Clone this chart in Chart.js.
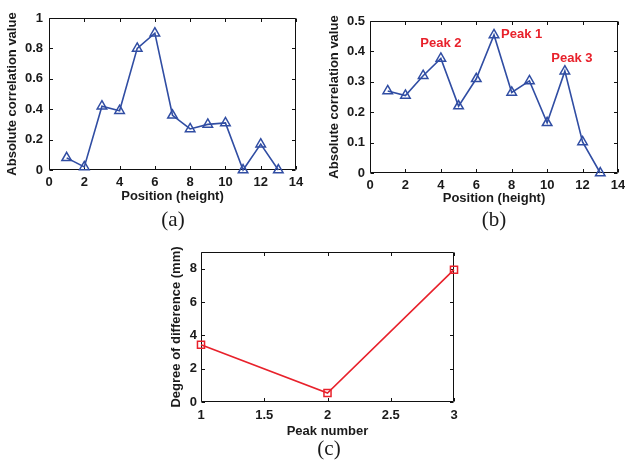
<!DOCTYPE html>
<html><head><meta charset="utf-8">
<script src="https://cdn.jsdelivr.net/npm/chart.js@4.4.1/dist/chart.umd.min.js"></script>
<style>
body{margin:0;background:#fff;width:625px;height:464px;position:relative;overflow:hidden}
canvas{position:absolute}
.lbl{position:absolute;font-family:'Liberation Serif','Times New Roman',serif;font-size:21px;color:#1a1a1a;transform:translate(-50%,-50%);line-height:1;white-space:nowrap}
</style></head><body>
<canvas id="ca" width="310" height="210" style="left:0;top:0"></canvas>
<canvas id="cb" width="313" height="210" style="left:312px;top:0"></canvas>
<canvas id="cc" width="320" height="206" style="left:150px;top:236px"></canvas>
<div class="lbl" style="left:173px;top:219px">(a)</div>
<div class="lbl" style="left:494px;top:219px">(b)</div>
<div class="lbl" style="left:329px;top:448px">(c)</div>
<script>
// ---- data ----
const positions = [1,2,3,4,5,6,7,8,9,10,11,12,13];
const corrA = [0.08,0.02,0.42,0.39,0.80,0.90,0.36,0.27,0.30,0.31,0.00,0.17,0.00];
const corrB = [0.27,0.255,0.32,0.377,0.22,0.31,0.454,0.265,0.303,0.165,0.335,0.102,0.00];
const peakNumbers = [1,2,3];
const diffC = [3.44,0.54,7.94];
const peakLabels = ['Peak 1','Peak 2','Peak 3'];
const peakPositions = [7,4,11];

const BLUE = '#304DA3', RED = '#E8212B', TXT = '#1a1a1a';
const FONT = "'Liberation Sans', Arial, Helvetica, sans-serif";

const boxPlugin = {
  id: 'matlabBox',
  beforeDatasetsDraw(chart) {
    const {ctx, chartArea: a, scales} = chart;
    const L = Math.round(a.left)+0.5, R = Math.round(a.right)-0.5, T = Math.round(a.top)+0.5, B = Math.round(a.bottom)-0.5;
    ctx.save();
    ctx.strokeStyle = '#111'; ctx.lineWidth = 1;
    ctx.beginPath();
    ctx.rect(L, T, R-L, B-T);
    const tl = 3.5;
    scales.x.ticks.forEach(t => {
      const p = Math.round(scales.x.getPixelForValue(t.value)) + 0.5;
      ctx.moveTo(p, B); ctx.lineTo(p, B - tl);
      ctx.moveTo(p, T); ctx.lineTo(p, T + tl);
    });
    scales.y.ticks.forEach(t => {
      const p = Math.round(scales.y.getPixelForValue(t.value)) + 0.5;
      ctx.moveTo(L, p); ctx.lineTo(L + tl, p);
      ctx.moveTo(R, p); ctx.lineTo(R - tl, p);
    });
    ctx.stroke();
    ctx.restore();
  }
};

const peakPlugin = {
  id: 'peakLabels',
  afterDatasetsDraw(chart, args, opts) {
    if (!opts || !opts.labels) return;
    const {ctx, scales} = chart;
    const data = chart.data.datasets[0].data;
    ctx.save();
    ctx.fillStyle = RED;
    ctx.font = "bold 13px " + FONT;
    ctx.textBaseline = 'middle';
    for (let i = 0; i < opts.labels.length; i++) {
      const xv = opts.at[i];
      const pt = data.find(d => d.x === xv);
      const o = opts.offsets[i];
      ctx.textAlign = o.align;
      ctx.fillText(opts.labels[i], scales.x.getPixelForValue(xv) + o.dx, scales.y.getPixelForValue(pt.y) + o.dy);
    }
    ctx.restore();
  }
};

function makeChart(id, cfg) {
  const tickFont = {family: FONT, size: 13, weight: 'bold'};
  const titleFont = {family: FONT, size: 13, weight: 'bold', lineHeight: 1.2};
  return new Chart(document.getElementById(id), {
    type: 'line',
    data: {
      datasets: [{
        data: cfg.xs.map((x, i) => ({x, y: cfg.ys[i]})),
        borderColor: cfg.color, borderWidth: 1.6,
        backgroundColor: 'rgba(0,0,0,0)',
        pointStyle: cfg.pointStyle, pointRadius: cfg.pointRadius,
        pointBorderColor: cfg.color, pointBorderWidth: 1.5,
        pointBackgroundColor: 'rgba(0,0,0,0)',
        tension: 0, clip: false, fill: false
      }]
    },
    options: {
      responsive: false, animation: false, devicePixelRatio: 1,
      layout: {padding: cfg.padding},
      plugins: {legend: {display: false}, tooltip: {enabled: false}, peakLabels: cfg.peaks || {}},
      scales: {
        x: {
          type: 'linear', min: cfg.xmin, max: cfg.xmax,
          grid: {display: false, drawTicks: false},
          border: {display: false},
          ticks: {stepSize: cfg.xstep, color: TXT, font: tickFont, padding: cfg.xTickPad, maxRotation: 0, includeBounds: false,
                  callback: v => String(Math.round(v * 100) / 100)},
          title: {display: true, text: cfg.xTitle, color: TXT, font: titleFont, padding: {top: 0, bottom: cfg.xTitlePad}},
          afterFit(s) { s.height = cfg.xHeight; s.paddingLeft = 0; s.paddingRight = 0; }
        },
        y: {
          type: 'linear', min: cfg.ymin, max: cfg.ymax,
          grid: {display: false, drawTicks: false},
          border: {display: false},
          ticks: {stepSize: cfg.ystep, color: TXT, font: tickFont, padding: cfg.yTickPad, includeBounds: false,
                  callback: v => String(Math.round(v * 100) / 100)},
          title: {display: true, text: cfg.yTitle, color: TXT, font: titleFont, padding: {top: cfg.yTitlePad, bottom: 0}},
          afterFit(s) { s.width = cfg.yWidth; s.paddingTop = 0; s.paddingBottom = 0; }
        }
      }
    },
    plugins: [boxPlugin, peakPlugin]
  });
}

makeChart('ca', {
  xs: positions, ys: corrA, color: BLUE, pointStyle: 'triangle', pointRadius: 5.5,
  padding: {top: 18, right: 14, left: 0, bottom: 0},
  xmin: 0, xmax: 14, xstep: 2, ymin: 0, ymax: 1, ystep: 0.2,
  xTitle: 'Position (height)', yTitle: 'Absolute correlation value',
  xHeight: 40, yWidth: 49, xTickPad: 5, yTickPad: 6, xTitlePad: 6, yTitlePad: 5
});

makeChart('cb', {
  xs: positions, ys: corrB, color: BLUE, pointStyle: 'triangle', pointRadius: 5.5,
  padding: {top: 21, right: 7, left: 0, bottom: 0},
  xmin: 0, xmax: 14, xstep: 2, ymin: 0, ymax: 0.5, ystep: 0.1,
  xTitle: 'Position (height)', yTitle: 'Absolute correlation value',
  xHeight: 37, yWidth: 58, xTickPad: 5, yTickPad: 5, xTitlePad: 4, yTitlePad: 15,
  peaks: {
    labels: peakLabels, at: peakPositions,
    offsets: [{dx: 7, dy: -1, align: 'left'}, {dx: 0, dy: -15, align: 'center'}, {dx: 7, dy: -13, align: 'center'}]
  }
});

makeChart('cc', {
  xs: peakNumbers, ys: diffC, color: RED, pointStyle: 'rect', pointRadius: 5,
  padding: {top: 16, right: 16, left: 0, bottom: 0},
  xmin: 1, xmax: 3, xstep: 0.5, ymin: 0, ymax: 9, ystep: 2,
  xTitle: 'Peak number', yTitle: 'Degree of difference (mm)',
  xHeight: 40, yWidth: 51, xTickPad: 6, yTickPad: 4, xTitlePad: 3, yTitlePad: 19
});
</script>
</body></html>
